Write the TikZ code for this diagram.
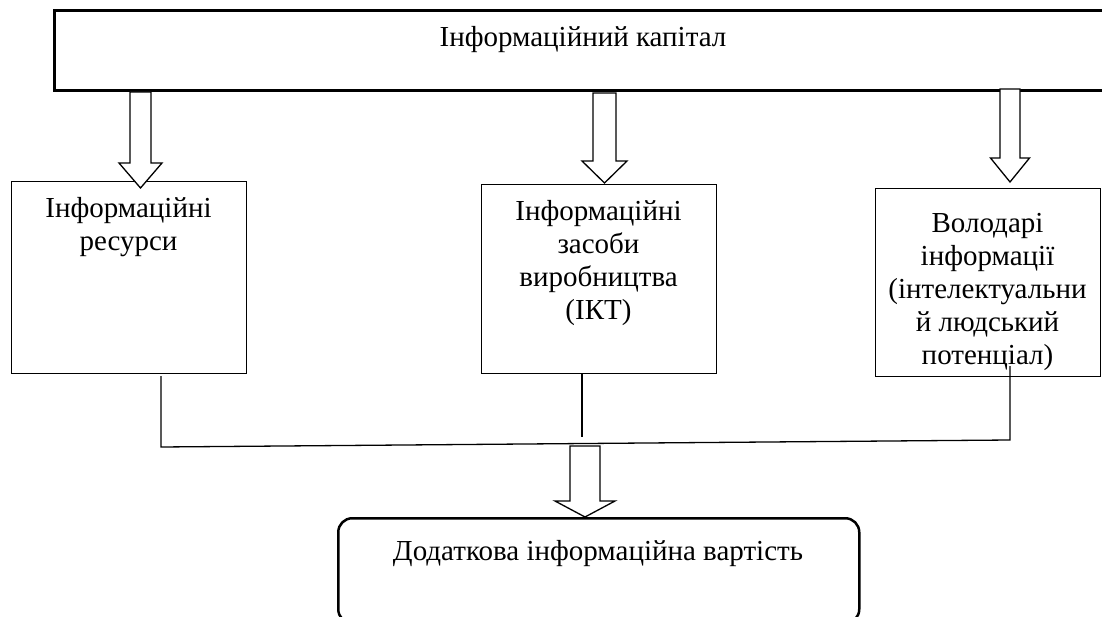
\documentclass[tikz,border=0pt]{standalone}
\usepackage{fontspec}
\setmainfont{Liberation Serif}
\begin{document}
\begin{tikzpicture}[x=1pt,y=-1pt,
  txt/.style={font=\fontsize{29}{33}\selectfont, inner sep=0pt, align=center},
  box/.style={draw, line width=1.3pt, inner sep=0pt, anchor=north west},
  link/.style={line width=1.3pt},
  barrow/.style={draw, line width=1.3pt, fill=white, line join=miter}]
\useasboundingbox (0,0) rectangle (1102,617);
\clip (0,0) rectangle (1102,617);
\fill[white] (0,0) rectangle (1102,617);
% boxes
\node[box, line width=3pt, minimum width=1080pt, minimum height=80pt] (cap) at (53,9) {};
\node[box, minimum width=235pt, minimum height=192pt] (b1) at (11,181) {};
\node[box, minimum width=235pt, minimum height=189pt] (b2) at (481,184) {};
\node[box, minimum width=225pt, minimum height=188pt] (b3) at (875,188) {};
\node[box, line width=2.5pt, rounded corners=14pt, minimum width=521pt, minimum height=105pt] (res) at (337,517) {};
% texts
\node[txt, anchor=base] (tcap) at (583,47) {Інформаційний капітал};
\node[txt, anchor=north] (t1) at (128.5,193.9) {\strut Інформаційні\\ресурси};
\node[txt, anchor=north] (t2) at (598.5,196.9) {\strut Інформаційні\\засоби\\виробництва\\(ІКТ)};
\node[txt, anchor=north] (t3) at (987.5,208.9) {\strut Володарі\\інформації\\(інтелектуальни\\й людський\\потенціал)};
\node[txt, anchor=base] (tres) at (598,560) {Додаткова інформаційна вартість};
% block arrows: center x, top, head base, tip, shaft half, head half
\newcommand{\mybarrow}[6]{%
  \draw[barrow] (#1-#5,#2) -- (#1+#5,#2) -- (#1+#5,#3) -- (#1+#6,#3) -- (#1,#4)
    -- (#1-#6,#3) -- (#1-#5,#3) -- cycle;}
\mybarrow{140.5}{92}{163}{188}{10.5}{21.5}
\mybarrow{604.5}{93}{161}{183}{11.5}{22.5}
\mybarrow{1010}{89}{158}{182}{10}{19.5}
% connectors
\coordinate (s1) at (161,376);
\coordinate (j1) at (161,447);
\coordinate (j3) at (1010,440);
\coordinate (s3) at (1010,366);
\coordinate (s2a) at (582,373);
\coordinate (s2b) at (582,437);
\draw[link] (s1) -- (j1) -- (j3) -- (s3);
\draw[link] (s2a) -- (s2b);
\mybarrow{585}{446}{501}{517}{15}{30}
\end{tikzpicture}
\end{document}
